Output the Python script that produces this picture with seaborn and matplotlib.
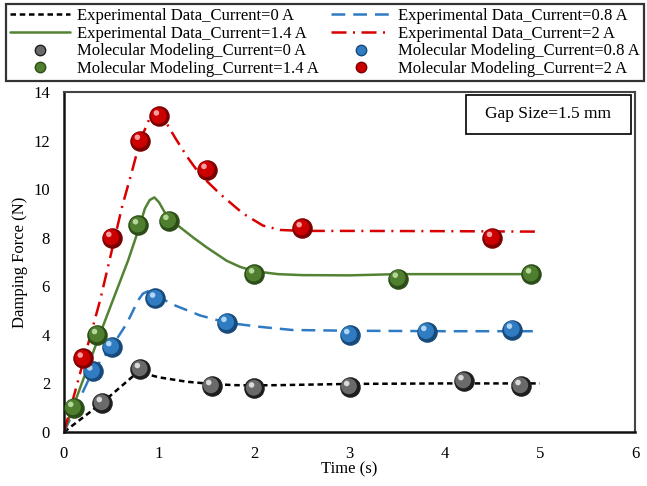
import matplotlib
matplotlib.use("Agg")
import numpy as np
import pandas as pd
import seaborn as sns
import matplotlib.pyplot as plt
from matplotlib.lines import Line2D
from matplotlib.patches import Rectangle
from matplotlib.ticker import MultipleLocator
from matplotlib.transforms import ScaledTranslation

# ---------------- data ----------------
exp_t_0 = [0, 0.4, 0.8, 0.9, 1.0, 1.29, 1.55, 1.78, 2.0, 2.27, 3.0, 4.0, 5.0]
exp_f_0 = [0, 1.2, 2.55, 2.35, 2.25, 2.07, 1.98, 1.93, 1.92, 1.93, 1.98, 2.0, 2.0]

exp_t_08 = [0, 0.3, 0.5, 0.66, 0.78, 0.83, 0.885, 0.96, 1.11, 1.43, 1.71, 2.06, 2.4, 3.0, 4.0, 5.0]
exp_f_08 = [0, 2.5, 3.5, 4.47, 5.43, 5.7, 5.8, 5.7, 5.3, 4.8, 4.5, 4.33, 4.2, 4.17, 4.15, 4.15]

exp_t_14 = [0, 0.35, 0.675, 0.78, 0.85, 0.9, 0.95, 1.0, 1.05, 1.1, 1.36, 1.5, 1.71, 1.85, 2.0, 2.25,
            2.5, 3.0, 3.5, 4.0, 5.0]
exp_f_14 = [0, 3.75, 7.08, 8.3, 9.2, 9.55, 9.66, 9.45, 9.1, 8.8, 8.0, 7.6, 7.05, 6.8, 6.62, 6.5,
            6.46, 6.45, 6.5, 6.5, 6.5]

exp_t_2 = [0, 0.38, 0.61, 0.71, 0.8, 0.92, 1.0, 1.08, 1.17, 1.3, 1.43, 1.64, 1.88, 2.09, 2.27, 2.5,
           3.0, 4.0, 5.0]
exp_f_2 = [0, 5.43, 9.27, 10.67, 12.0, 13.1, 13.1, 12.7, 12.1, 11.3, 10.6, 9.8, 9.0, 8.5, 8.32, 8.28,
           8.28, 8.27, 8.25]

mm_t_0 = [0.4, 0.8, 1.55, 2.0, 3.0, 4.2, 4.8]
mm_f_0 = [1.2, 2.6, 1.9, 1.8, 1.86, 2.1, 1.9]

mm_t_08 = [0.3, 0.5, 0.96, 1.71, 3.0, 3.81, 4.71]
mm_f_08 = [2.5, 3.5, 5.5, 4.5, 4.0, 4.13, 4.22]

mm_t_14 = [0.1, 0.35, 0.78, 1.1, 2.0, 3.51, 4.91]
mm_f_14 = [1.0, 4.0, 8.52, 8.7, 6.5, 6.32, 6.5]

mm_t_2 = [0.2, 0.5, 0.8, 1.0, 1.5, 2.5, 4.5]
mm_f_2 = [3.03, 8.0, 12.0, 13.0, 10.8, 8.4, 8.0]

currents = ["0", "0.8", "1.4", "2"]
x_ticks = [0, 1, 2, 3, 4, 5, 6]
y_ticks = [0, 2, 4, 6, 8, 10, 12, 14]

# ---------------- style ----------------
sns.set_theme(style="white")
plt.rcParams["font.family"] = ["Liberation Serif", "DejaVu Serif"]

line_colors = ["#000000", "#2E7BC4", "#548235", "#D80000"]
m_dark = ["#1e1e1e", "#174a7a", "#2c4d18", "#7a0000"]
m_base = ["#6a6a6a", "#2f7cc2", "#4f7f2e", "#cc0000"]
m_light = ["#e6e6e6", "#c0e0f8", "#c0e0a8", "#ffb0b0"]
lw = 1.8
line_styles = [(0, (2.2, 1.5)), (0, (5.5, 3.2)), "-", (0, (6.0, 2.6, 0.8, 2.6))]

exp_t = [exp_t_0, exp_t_08, exp_t_14, exp_t_2]
exp_f = [exp_f_0, exp_f_08, exp_f_14, exp_f_2]
mm_t = [mm_t_0, mm_t_08, mm_t_14, mm_t_2]
mm_f = [mm_f_0, mm_f_08, mm_f_14, mm_f_2]

fig = plt.figure(figsize=(6.47, 4.86), dpi=100)
ax = fig.add_axes([64 / 647, 1 - 432 / 486, (635 - 64) / 647, (432 - 92) / 486])

for i in range(4):
    df = pd.DataFrame({"t": exp_t[i], "f": exp_f[i]})
    sns.lineplot(data=df, x="t", y="f", ax=ax, color=line_colors[i], lw=lw,
                 linestyle=line_styles[i], sort=False, zorder=2)

for i in range(4):
    df = pd.DataFrame({"t": mm_t[i], "f": mm_f[i]})
    layers = [
        (190, m_dark[i], m_dark[i], 1.0, (0, 0), 1.0),
        (130, m_base[i], "none", 0.0, (-0.4, 0.4), 1.0),
        (55, m_base[i], "none", 0.0, (-0.9, 1.0), 1.0),
        (16, m_light[i], "none", 0.0, (-2.0, 2.4), 0.9),
    ]
    for s, fc, ec, elw, off, a in layers:
        sns.scatterplot(data=df, x="t", y="f", ax=ax, s=s, color=fc, alpha=a,
                        edgecolor=ec, linewidth=elw, zorder=3, legend=False)
        coll = ax.collections[-1]
        coll.set_offset_transform(ax.transData + ScaledTranslation(off[0] / 72, off[1] / 72,
                                                                   fig.dpi_scale_trans))

ax.set_xlim(0, 6)
ax.set_ylim(0, 14)
ax.set_xticks(x_ticks)
ax.set_yticks(y_ticks)
ax.xaxis.set_minor_locator(MultipleLocator(0.2))
ax.yaxis.set_minor_locator(MultipleLocator(0.4))
ax.tick_params(which="both", direction="in", colors="black", labelsize=12)
ax.tick_params(which="major", length=6, width=1.2)
ax.tick_params(which="minor", length=3.5, width=1.0)
ax.tick_params(axis="x", which="major", pad=10)
ax.tick_params(axis="y", which="major", pad=10)
for name, sp in ax.spines.items():
    if name in ("left", "bottom"):
        sp.set_color("#111111")
        sp.set_linewidth(1.8)
    else:
        sp.set_color("#444444")
        sp.set_linewidth(1.5)
ax.set_xlabel("Time (s)", fontsize=12, color="black", labelpad=0)
ax.set_ylabel("Damping Force (N)", fontsize=12, color="black", labelpad=4)

# Gap size annotation box
ax.add_patch(Rectangle(((466 - 64) / 571, (432 - 134) / 340), (631 - 466) / 571, (134 - 95) / 340,
                       transform=ax.transAxes, fill=False, edgecolor="black", lw=1.2, zorder=5))
ax.text((548 - 64) / 571, (432 - 114.5) / 340, "Gap Size=1.5 mm", transform=ax.transAxes,
        ha="center", va="center", fontsize=12.5, color="black", zorder=6)

# legend
exp_handles = [Line2D([], [], color=line_colors[i], lw=lw, linestyle=line_styles[i]) for i in range(4)]
mm_handles = [Line2D([], [], linestyle="none", marker="o", markersize=7.5, markerfacecolor=m_base[i],
                     markeredgecolor=m_dark[i], markeredgewidth=1.0) for i in range(4)]
exp_labels = [f"Experimental Data_Current={c} A" for c in currents]
mm_labels = [f"Molecular Modeling_Current={c} A" for c in currents]
handles = [exp_handles[0], exp_handles[2], mm_handles[0], mm_handles[2],
           exp_handles[1], exp_handles[3], mm_handles[1], mm_handles[3]]
labels = [exp_labels[0], exp_labels[2], mm_labels[0], mm_labels[2],
          exp_labels[1], exp_labels[3], mm_labels[1], mm_labels[3]]
leg = fig.legend(handles, labels, ncol=2, loc="upper left",
                 bbox_to_anchor=(6 / 647, 1 - 4 / 486, (644 - 6) / 647, 0.0), mode="expand",
                 borderaxespad=0, frameon=True, fancybox=False, fontsize=12,
                 handlelength=3.6, handletextpad=0.4, labelspacing=0.1, borderpad=0.25,
                 columnspacing=1.0)
leg.get_frame().set_edgecolor("black")
leg.get_frame().set_linewidth(1.6)
for t in leg.get_texts():
    t.set_color("black")

fig.savefig("out.png", dpi=100)
